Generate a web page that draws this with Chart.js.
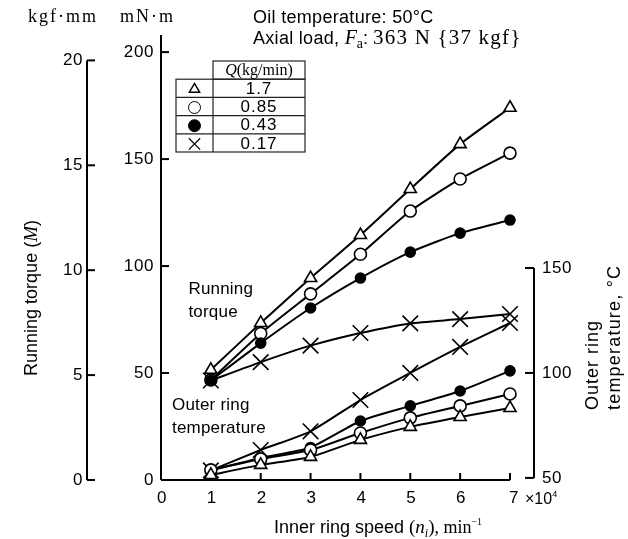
<!DOCTYPE html>
<html>
<head>
<meta charset="utf-8">
<script src="https://cdn.jsdelivr.net/npm/chart.js@4.4.1/dist/chart.umd.min.js"></script>
<style>
  html, body { margin: 0; padding: 0; background: #fff; }
  #wrap { width: 628px; height: 539px; }
</style>
</head>
<body>
<div id="wrap"><canvas id="chart" width="628" height="539"></canvas></div>
<script>
// inner ring speed, x10^4 min^-1
const speeds = [1, 2, 3, 4, 5, 6, 7];
const flowRates = ['1.7', '0.85', '0.43', '0.17'];

// running torque, mN·m
const torqueQ170 = [51.5, 73.4, 94.4, 114.5, 136, 157, 174];
const torqueQ085 = [46.8, 68.5, 87, 105.5, 125.7, 140.7, 152.8];
const torqueQ043 = [46.5, 64, 80.4, 94.4, 106.5, 115.4, 121.5];
const torqueQ017 = [46.5, 55.1, 62.8, 68.7, 73.2, 75.2, 77.6];

// outer ring temperature, °C
const tempQ170 = [51.4, 56.2, 60, 68.1, 74.3, 79, 83.3];
const tempQ085 = [53.8, 59, 63.3, 71.4, 78.6, 84.3, 90];
const tempQ043 = [53.6, 59.5, 64.5, 77.1, 84.3, 91.4, 101];
const tempQ017 = [53.6, 63.3, 72.2, 87.1, 100, 112.4, 123.8];

const speedTicks = [0, 1, 2, 3, 4, 5, 6, 7];
const torqueTicks = [0, 50, 100, 150, 200];
const kgfTicks = [0, 5, 10, 15, 20];
const tempTicks = [50, 100, 150];
const KGF = 9.80665; // mN·m per kgf·mm

const SANS = '"Liberation Sans", Arial, sans-serif';
const SERIF = '"Liberation Serif", "Times New Roman", serif';

const markers = [
  { style: 'triangle', radius: 7, fill: '#fff' },
  { style: 'circle', radius: 6, fill: '#fff' },
  { style: 'circle', radius: 5, fill: '#000' },
  { style: 'crossRot', radius: 11, fill: '#fff' },
];

function series(values, m, axis, order) {
  return {
    data: values.map((v, i) => ({ x: speeds[i], y: v })),
    yAxisID: axis,
    borderColor: '#000',
    borderWidth: 2,
    tension: 0.2,
    pointStyle: m.style,
    pointRadius: m.radius,
    pointBackgroundColor: m.fill,
    pointBorderColor: '#000',
    pointBorderWidth: 1.6,
    clip: false,
    order,
  };
}

// parts: [text, font, dy, letterSpacing]
function drawParts(ctx, parts, x, y, align) {
  let total = 0;
  parts.forEach(p => {
    ctx.font = p[1];
    ctx.letterSpacing = p[3] || '0px';
    total += ctx.measureText(p[0]).width;
  });
  let cx = align === 'center' ? x - total / 2 : align === 'right' ? x - total : x;
  ctx.textAlign = 'left';
  parts.forEach(p => {
    ctx.font = p[1];
    ctx.letterSpacing = p[3] || '0px';
    ctx.fillText(p[0], cx, y + (p[2] || 0));
    cx += ctx.measureText(p[0]).width;
  });
  ctx.letterSpacing = '0px';
}

function seg(ctx, x1, y1, x2, y2) {
  ctx.beginPath();
  ctx.moveTo(x1, y1);
  ctx.lineTo(x2, y2);
  ctx.stroke();
}

const axesPlugin = {
  id: 'axes',
  beforeDatasetsDraw(chart) {
    const { ctx, chartArea: a, scales: { x, y, yT } } = chart;
    ctx.save();
    ctx.strokeStyle = '#000';
    ctx.fillStyle = '#000';
    ctx.lineWidth = 2;
    ctx.textBaseline = 'middle';
    ctx.font = '17px ' + SANS;
    ctx.letterSpacing = '0.6px';

    // mN·m axis
    seg(ctx, a.left, a.top, a.left, a.bottom);
    ctx.textAlign = 'right';
    torqueTicks.forEach(t => {
      const py = y.getPixelForValue(t);
      seg(ctx, a.left, py, a.left + 8, py);
      ctx.fillText(String(t), a.left - 7, py);
    });

    // kgf·mm axis
    const kx = a.left - 74;
    seg(ctx, kx, y.getPixelForValue(0), kx, y.getPixelForValue(20 * KGF));
    kgfTicks.forEach(t => {
      const py = y.getPixelForValue(t * KGF);
      seg(ctx, kx, py, kx + 8, py);
      ctx.fillText(String(t), kx - 4, py);
    });

    // speed axis
    seg(ctx, a.left, a.bottom, a.right, a.bottom);
    ctx.textAlign = 'center';
    speedTicks.forEach(t => {
      const px = x.getPixelForValue(t);
      if (t > 0) seg(ctx, px, a.bottom, px, a.bottom - 7);
      ctx.fillText(String(t), px + (t === 7 ? 4 : 1), a.bottom + 18);
    });
    ctx.textBaseline = 'alphabetic';
    drawParts(ctx, [['\u00d710', '16px ' + SANS], ['4', '9px ' + SANS, -7]], a.right + 15, a.bottom + 24, 'left');

    // temperature axis
    const tx = a.right + 24;
    ctx.textBaseline = 'middle';
    ctx.font = '17px ' + SANS;
    ctx.letterSpacing = '0.6px';
    seg(ctx, tx, yT.getPixelForValue(50), tx, yT.getPixelForValue(150));
    ctx.textAlign = 'left';
    tempTicks.forEach(t => {
      const py = yT.getPixelForValue(t);
      seg(ctx, tx, py, tx - 9, py);
      ctx.fillText(String(t), tx + 8, py);
    });
    ctx.restore();
  },
  afterDraw(chart) {
    const { ctx, chartArea: a, scales: { x, y } } = chart;
    ctx.save();
    ctx.fillStyle = '#000';
    ctx.strokeStyle = '#000';

    // unit labels
    ctx.textBaseline = 'middle';
    ctx.textAlign = 'left';
    ctx.font = '18px ' + SERIF;
    ctx.letterSpacing = '2px';
    ctx.fillText('kgf\u00b7mm', 28, 17);
    ctx.fillText('mN\u00b7m', 120, 17);

    // conditions
    ctx.textBaseline = 'alphabetic';
    drawParts(ctx, [['Oil temperature: 50\u00b0C', '18px ' + SANS, 0, '0.3px']], 253, 23, 'left');
    drawParts(ctx, [
      ['Axial load, ', '18px ' + SANS, 0, '0.3px'],
      ['F', 'italic 20px ' + SERIF],
      ['a', '14px ' + SERIF, 4],
      [': ', '18px ' + SANS],
      ['363 N {37 kgf}', '21px ' + SERIF, 0, '1.2px'],
    ], 253, 44, 'left');

    // axis titles
    ctx.save();
    ctx.translate(32, 298);
    ctx.rotate(-Math.PI / 2);
    ctx.textBaseline = 'middle';
    drawParts(ctx, [['Running torque (', '18px ' + SANS], ['M', 'italic 19px ' + SERIF], [')', '18px ' + SANS]], 0, 0, 'center');
    ctx.restore();

    ctx.save();
    ctx.translate(593, 410);
    ctx.rotate(-Math.PI / 2);
    ctx.textBaseline = 'middle';
    drawParts(ctx, [['Outer ring', '18px ' + SANS, 0, '1px']], 0, 0, 'left');
    drawParts(ctx, [['temperature, \u00b0C', '18px ' + SANS, 0, '1.2px']], 0, 22, 'left');
    ctx.restore();

    ctx.textBaseline = 'alphabetic';
    drawParts(ctx, [
      ['Inner ring speed ', '18px ' + SANS],
      ['(', '19px ' + SERIF],
      ['n', 'italic 19px ' + SERIF],
      ['i', 'italic 12px ' + SERIF, 4],
      [')', '19px ' + SERIF],
      [', min', '18px ' + SERIF],
      ['\u22121', '10px ' + SERIF, -8],
    ], 378, a.bottom + 53, 'center');

    // curve annotations
    ctx.textBaseline = 'middle';
    ctx.font = '17px ' + SANS;
    ctx.letterSpacing = '0.2px';
    ctx.textAlign = 'left';
    ctx.fillText('Running', x.getPixelForValue(0.55), y.getPixelForValue(89));
    ctx.fillText('torque', x.getPixelForValue(0.55), y.getPixelForValue(78.5));
    ctx.fillText('Outer ring', x.getPixelForValue(0.22), y.getPixelForValue(35));
    ctx.fillText('temperature', x.getPixelForValue(0.22), y.getPixelForValue(24.3));

    // Q table
    const L = 176, R = 305, S = 213, T = 61, H = 18.2;
    ctx.lineWidth = 1.2;
    ctx.strokeStyle = '#222';
    ctx.strokeRect(S, T, R - S, H);
    ctx.strokeRect(L, T + H, R - L, H * 4);
    for (let i = 1; i < 4; i++) seg(ctx, L, T + H + H * i, R, T + H + H * i);
    seg(ctx, S, T + H, S, T + H * 5);
    ctx.textBaseline = 'alphabetic';
    drawParts(ctx, [['Q', 'italic 16px ' + SERIF], ['(kg/min)', '16px ' + SERIF]], (S + R) / 2, T + H - 4, 'center');
    const tableMarks = [
      { style: 'triangle', radius: 6, fill: '#fff', lw: 1.4 },
      { style: 'circle', radius: 6, fill: '#fff', lw: 1 },
      { style: 'circle', radius: 6, fill: '#000', lw: 1 },
      { style: 'crossRot', radius: 8, fill: '#fff', lw: 1.2 },
    ];
    flowRates.forEach((q, i) => {
      const cy = T + H + H * i + H / 2;
      const m = tableMarks[i];
      ctx.fillStyle = m.fill;
      ctx.strokeStyle = '#000';
      ctx.lineWidth = m.lw;
      Chart.helpers.drawPoint(ctx, { pointStyle: m.style, radius: m.radius, borderWidth: m.lw, rotation: 0 }, (L + S) / 2, cy + 1);
      ctx.fillStyle = '#000';
      ctx.textBaseline = 'middle';
      ctx.textAlign = 'center';
      ctx.font = '17px ' + SANS;
      ctx.letterSpacing = '1px';
      ctx.fillText(q, (S + R) / 2, cy + 1);
    });
    ctx.restore();
  },
};

new Chart(document.getElementById('chart'), {
  type: 'line',
  data: {
    datasets: [
      series(torqueQ170, markers[0], 'y', 0),
      series(torqueQ085, markers[1], 'y', 2),
      series(torqueQ043, markers[2], 'y', 1),
      series(torqueQ017, markers[3], 'y', 3),
      series(tempQ170, markers[0], 'yT', 0),
      series(tempQ085, markers[1], 'yT', 1),
      series(tempQ043, markers[2], 'yT', 2),
      series(tempQ017, markers[3], 'yT', 3),
    ],
  },
  options: {
    responsive: false,
    animation: false,
    events: [],
    layout: { padding: { left: 161, right: 118, top: 35, bottom: 59 } },
    scales: {
      x: { type: 'linear', min: 0, max: 7, display: false },
      y: { type: 'linear', min: 0, max: 208, display: false },
      yT: { type: 'linear', min: 49, max: 261, display: false },
    },
    plugins: { legend: { display: false }, tooltip: { enabled: false } },
  },
  plugins: [axesPlugin],
});
</script>
</body>
</html>
